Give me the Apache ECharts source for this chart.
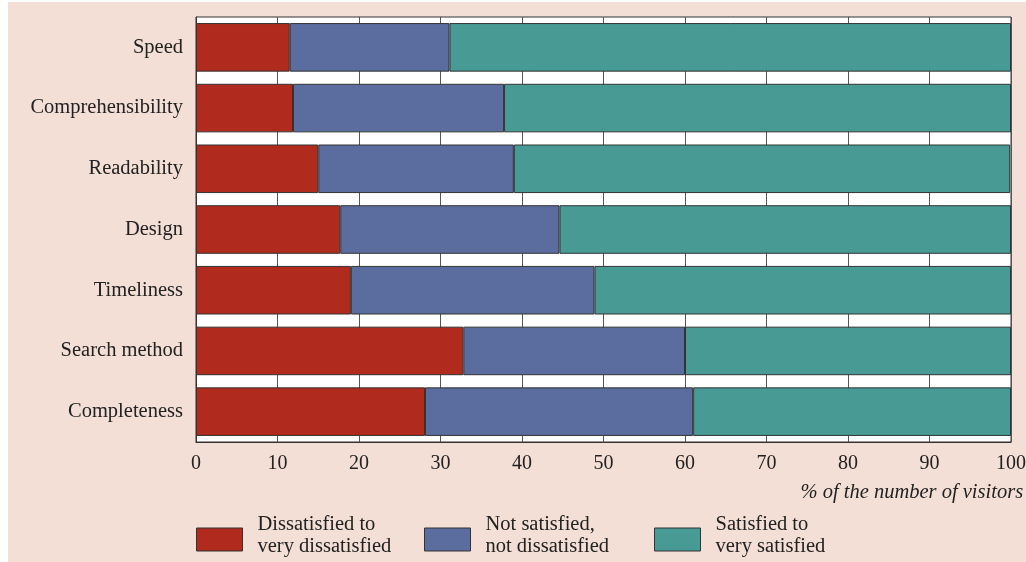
<!DOCTYPE html>
<html>
<head>
<meta charset="utf-8">
<script src="https://cdn.jsdelivr.net/npm/echarts@6/dist/echarts.min.js"></script>
<style>
  html, body { margin: 0; padding: 0; background: #fff; }
  #chart { width: 1026px; height: 562px; }
</style>
</head>
<body>
<div id="chart"></div>
<script>
// Website aspects, top to bottom
const categories = ['Speed', 'Comprehensibility', 'Readability', 'Design', 'Timeliness', 'Search method', 'Completeness'];

// Share of visitors (%) per satisfaction level
const dissatisfied = [11.5, 11.9, 15.0, 17.7, 19.0, 32.8, 28.1];
const neutral      = [19.6, 25.9, 24.0, 26.9, 29.9, 27.2, 32.9];
const satisfied    = [68.9, 62.2, 60.9, 55.4, 51.1, 40.0, 39.0];

const seriesNames = [
  'Dissatisfied to\nvery dissatisfied',
  'Not satisfied,\nnot dissatisfied',
  'Satisfied to\nvery satisfied'
];
const seriesColors = ['#b02b1d', '#5b6d9e', '#479b94'];
const axisTitle = '% of the number of visitors';

const FONT = '"Liberation Serif", "DejaVu Serif", serif';
const TEXT = '#222';

const chart = echarts.init(document.getElementById('chart'), null, { renderer: 'canvas' });

const values = [dissatisfied, neutral, satisfied];
const legendLefts = [196, 424, 654];

// Swatch sits in the lower part of a taller icon box, so the two-line
// legend text rides a little above the swatch centre.
const swatchIcon = 'path://M0,0L0,0M0,7H46V30H0Z';

chart.setOption({
  backgroundColor: '#fff',
  animation: false,
  graphic: [{
    type: 'rect',
    silent: true,
    z: -10,
    shape: { x: 8, y: 2, width: 1018, height: 560 },
    style: { fill: '#f4dfd6' }
  }],
  grid: {
    left: 196, right: 15, top: 17, height: 425,
    outerBoundsMode: 'none',
    containLabel: false,
    show: true,
    backgroundColor: '#fff',
    borderColor: '#333',
    borderWidth: 1
  },
  legend: seriesNames.map((name, i) => ({
    data: [name],
    left: legendLefts[i],
    top: 514,
    padding: 0,
    itemWidth: 46,
    itemHeight: 30,
    icon: swatchIcon,
    selectedMode: false,
    itemStyle: { borderColor: '#333', borderWidth: 1 },
    textStyle: {
      fontFamily: FONT, fontSize: 20.5, color: TEXT,
      lineHeight: 22, padding: [0, 0, 0, 10]
    }
  })),
  xAxis: {
    type: 'value',
    min: 0, max: 100, interval: 10,
    axisLine: { show: true, lineStyle: { color: '#333', width: 1 } },
    axisTick: { show: false },
    splitLine: { show: true, lineStyle: { color: '#555', width: 1 } },
    axisLabel: { fontFamily: FONT, fontSize: 20, color: TEXT, margin: 12 },
    // title sits under the labels, flush with the right end of the axis
    name: axisTitle,
    nameLocation: 'middle',
    nameGap: 41,
    nameTextStyle: {
      fontFamily: FONT, fontSize: 20.5, fontStyle: 'italic', color: TEXT,
      align: 'left', verticalAlign: 'top', lineHeight: 20,
      padding: [0, 0, 0, 197]
    }
  },
  yAxis: {
    type: 'category',
    data: categories,
    inverse: true,
    axisLine: { show: true, lineStyle: { color: '#333', width: 1 } },
    axisTick: { show: false },
    splitLine: { show: false },
    axisLabel: { fontFamily: FONT, fontSize: 20.5, color: TEXT, margin: 13 }
  },
  series: seriesNames.map((name, i) => ({
    name,
    type: 'bar',
    stack: 'share',
    barCategoryGap: '20%',
    data: values[i],
    itemStyle: { color: seriesColors[i], borderColor: '#333', borderWidth: 1 },
    emphasis: { disabled: true }
  }))
});
</script>
</body>
</html>
